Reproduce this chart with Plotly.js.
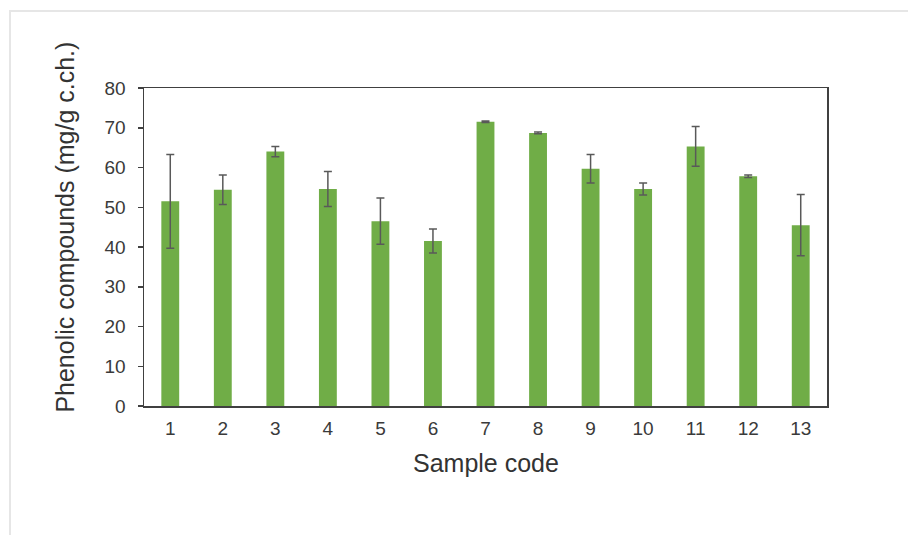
<!DOCTYPE html>
<html>
<head>
<meta charset="utf-8">
<script src="https://cdn.plot.ly/plotly-3.0.1.min.js"></script>
<style>
  html, body { margin: 0; padding: 0; background: #ffffff; }
  #frame { position: absolute; left: 9px; top: 10px; width: 920px; height: 540px;
           border-left: 2px solid #e6e6e6; border-top: 2px solid #e6e6e6; }
  #chart { position: absolute; left: 0; top: 0; width: 908px; height: 535px; }
</style>
</head>
<body>
<div id="frame"></div>
<div id="chart"></div>
<script>
const categories = ['1','2','3','4','5','6','7','8','9','10','11','12','13'];
const values = [51.5, 54.4, 64.0, 54.6, 46.5, 41.5, 71.5, 68.7, 59.7, 54.6, 65.3, 57.8, 45.5];
const errors = [11.8, 3.7, 1.3, 4.4, 5.8, 3.0, 0.2, 0.2, 3.6, 1.5, 5.0, 0.3, 7.7];
const yTicks = [0, 10, 20, 30, 40, 50, 60, 70, 80];

const trace = {
  type: 'bar',
  x: categories,
  y: values,
  marker: { color: '#70AD47', line: { width: 0 } },
  error_y: { type: 'data', array: errors, visible: true, color: '#595959', thickness: 1.5, width: 4 },
  hoverinfo: 'skip'
};

const layout = {
  width: 908, height: 535,
  margin: { l: 144, r: 81, t: 88, b: 129 },
  paper_bgcolor: 'rgba(0,0,0,0)',
  plot_bgcolor: '#ffffff',
  bargap: 0.66,
  showlegend: false,
  font: { family: 'Liberation Sans, Arial, sans-serif', color: '#3a3a3a' },
  xaxis: {
    type: 'category',
    showline: true, mirror: true, linecolor: '#404040', linewidth: 1.5,
    ticks: '', showgrid: false, zeroline: false,
    tickfont: { size: 19, color: '#3a3a3a' },
    ticklabelstandoff: 5
  },
  yaxis: {
    range: [0, 80],
    tickvals: yTicks,
    ticktext: yTicks.map(String),
    showline: true, mirror: true, linecolor: '#404040', linewidth: 1.5,
    ticks: 'outside', ticklen: 5, tickwidth: 1.5, tickcolor: '#404040',
    showgrid: false, zeroline: false,
    tickfont: { size: 19, color: '#3a3a3a' },
    ticklabelstandoff: 8
  },
  annotations: [
    { text: 'Phenolic compounds (mg/g c.ch.)', textangle: -90, xref: 'paper', yref: 'paper',
      x: -0.1157, y: 0.564, xanchor: 'center', yanchor: 'middle', showarrow: false,
      font: { size: 25, color: '#333333' } },
    { text: 'Sample code', xref: 'paper', yref: 'paper',
      x: 0.5, y: -0.18, xanchor: 'center', yanchor: 'middle', showarrow: false,
      font: { size: 25, color: '#333333' } }
  ]
};

Plotly.newPlot('chart', [trace], layout, { displayModeBar: false, staticPlot: true });
</script>
</body>
</html>
